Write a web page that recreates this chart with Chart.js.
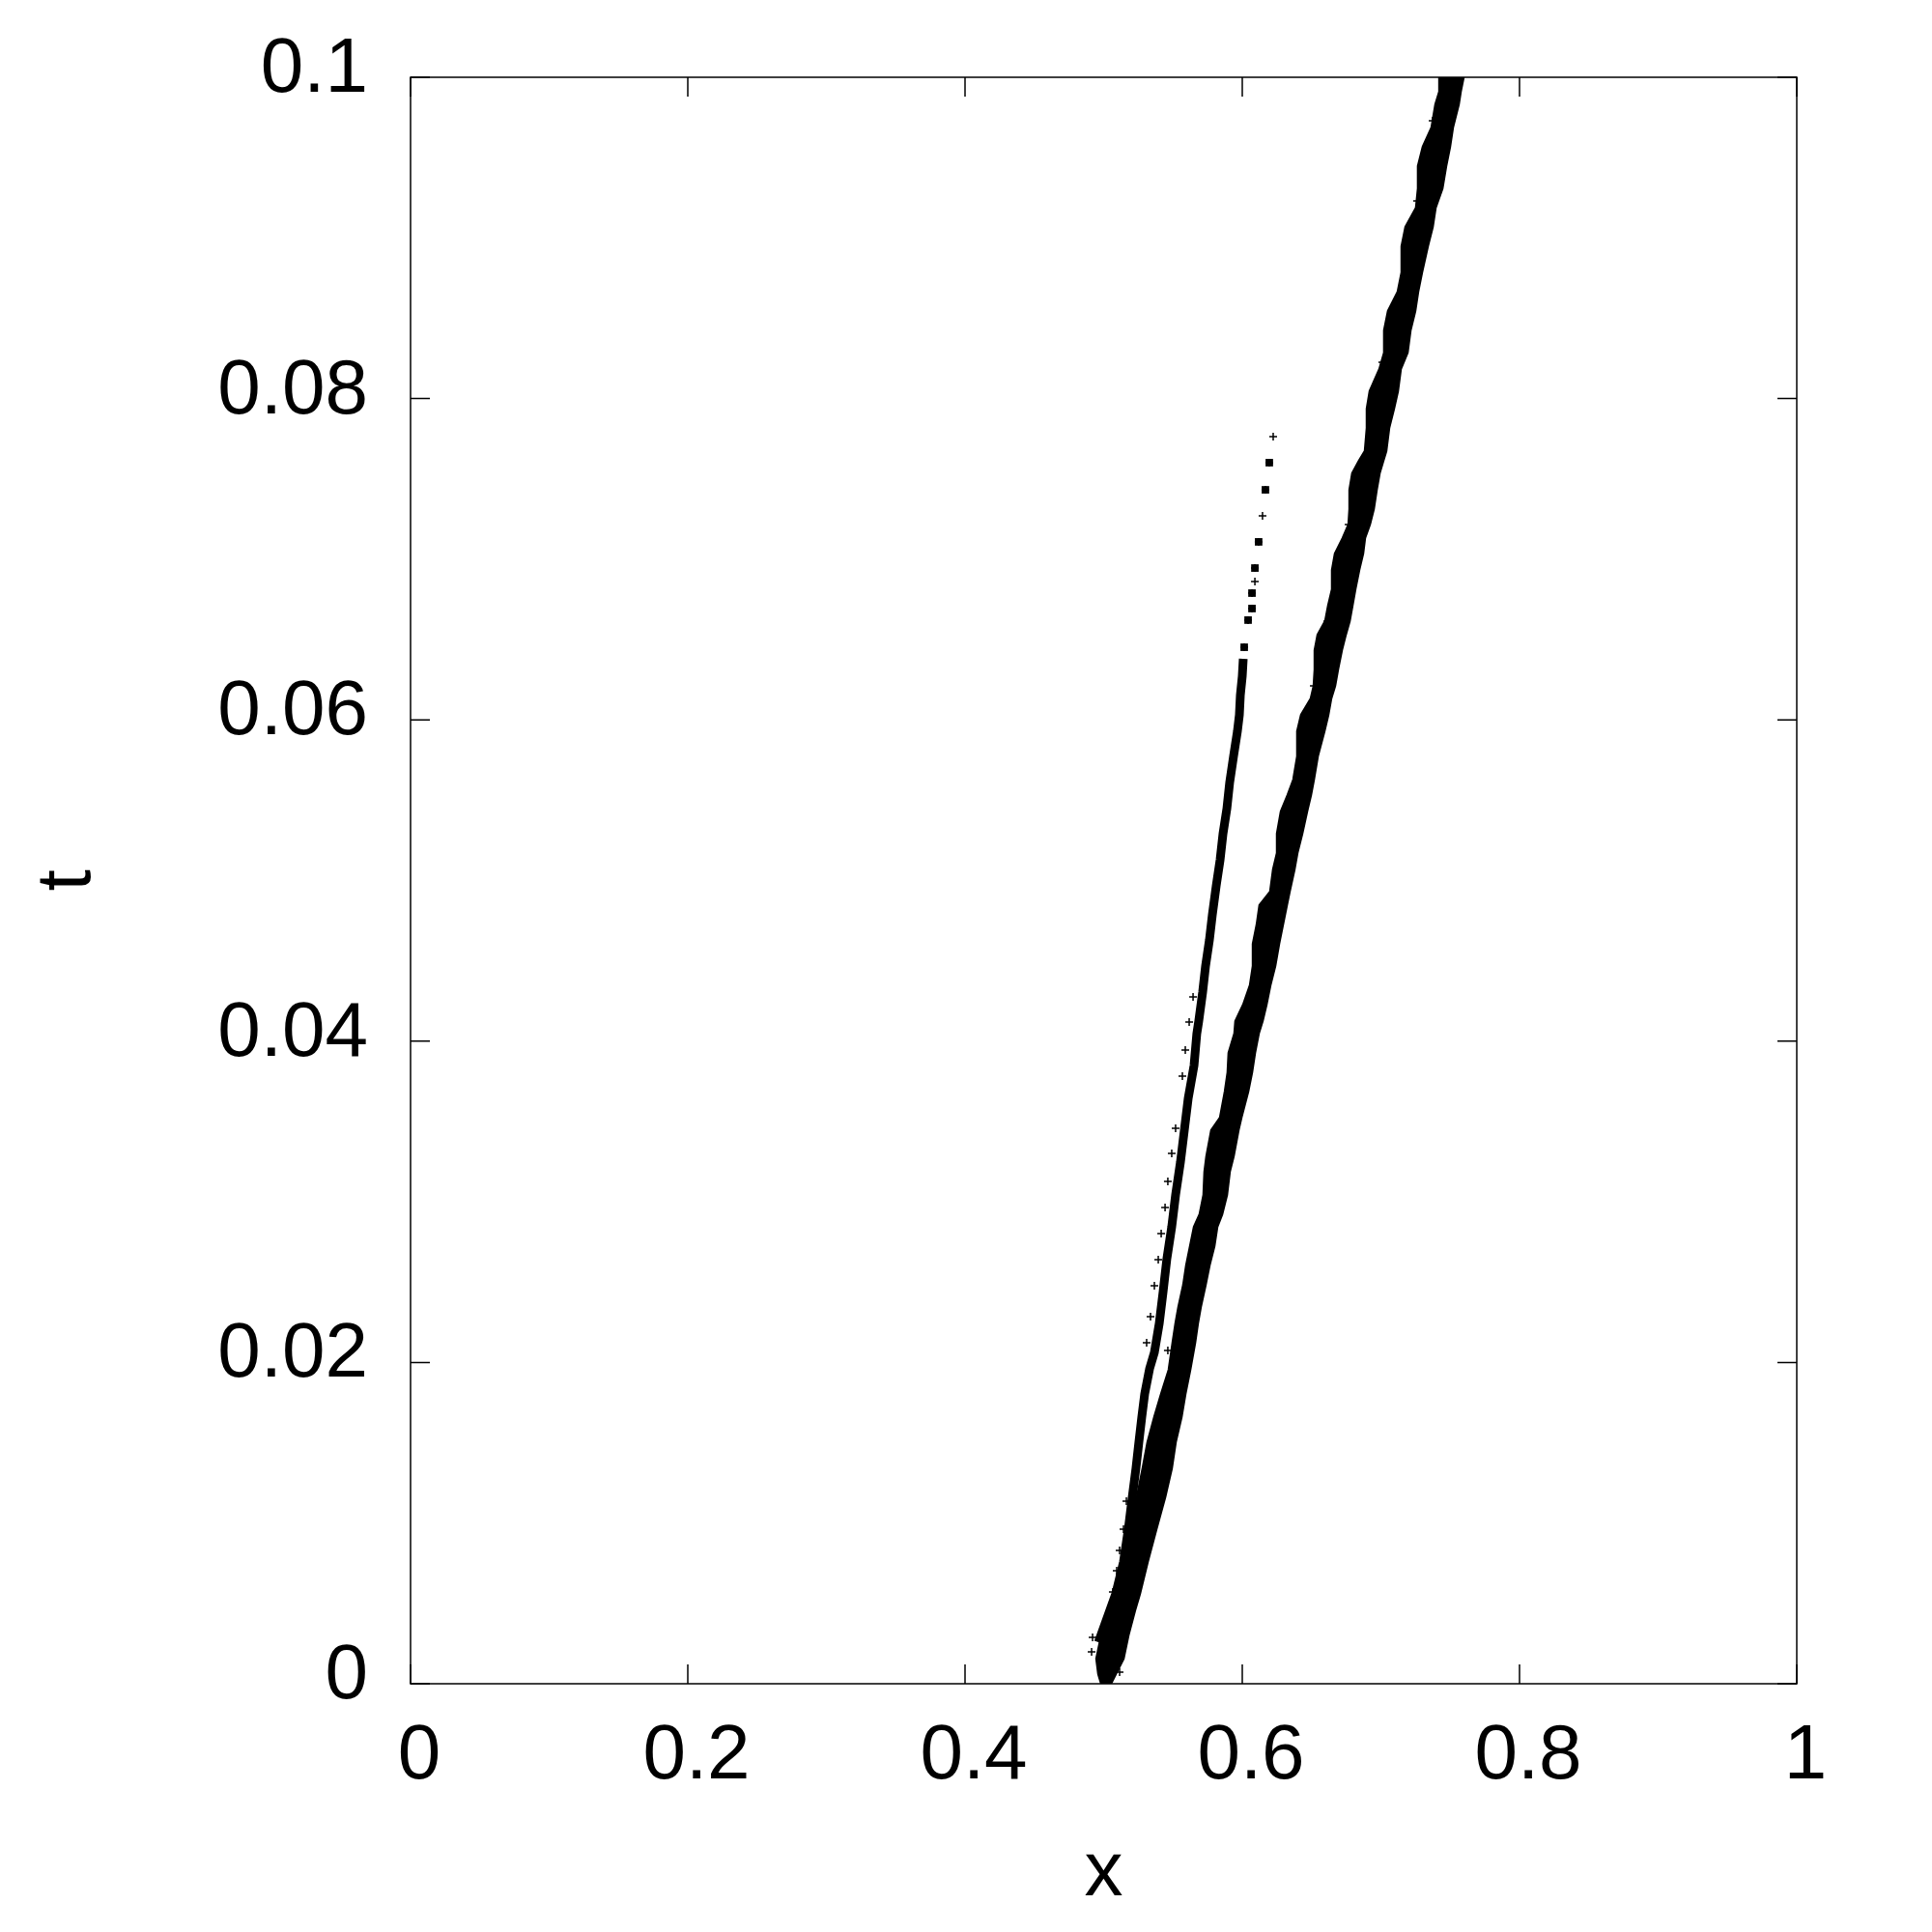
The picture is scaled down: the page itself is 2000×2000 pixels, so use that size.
<!DOCTYPE html>
<html>
<head>
<meta charset="utf-8">
<script src="https://cdn.jsdelivr.net/npm/chart.js@4.4.0/dist/chart.umd.min.js"></script>
<style>
  html, body { margin: 0; padding: 0; background: #fff; }
  #wrap { width: 2000px; height: 2000px; position: relative; }
</style>
</head>
<body>
<div id="wrap"><canvas id="chart"></canvas></div>
<script>
// axis ticks
const xTicks = [0, 0.2, 0.4, 0.6, 0.8, 1];
const xTickLabels = ['0', '0.2', '0.4', '0.6', '0.8', '1'];
const yTicks = [0, 0.02, 0.04, 0.06, 0.08, 0.1];
const yTickLabels = ['0', '0.02', '0.04', '0.06', '0.08', '0.1'];

// main thick band: edges at each t
const bandT = [0, 0.0006, 0.00156, 0.00301, 0.00457, 0.00559, 0.00758, 0.00962, 0.01161, 0.01341,
  0.01503, 0.0166, 0.01804, 0.01954, 0.02123, 0.02243, 0.02345, 0.02483, 0.02604, 0.02724,
  0.02844, 0.02922, 0.03043, 0.03187, 0.03283, 0.03446, 0.03524, 0.03686, 0.03806, 0.03927,
  0.04047, 0.04125, 0.04227, 0.04348, 0.04468, 0.04606, 0.04726, 0.04847, 0.04931, 0.05069,
  0.05171, 0.05292, 0.0543, 0.05532, 0.05628, 0.05773, 0.05929, 0.06031, 0.06133, 0.06212,
  0.06314, 0.06434, 0.0653, 0.06615, 0.06711, 0.06813, 0.06933, 0.07035, 0.07132, 0.07216,
  0.07312, 0.07432, 0.07535, 0.07613, 0.07673, 0.07817, 0.07937, 0.08046, 0.08184, 0.08286,
  0.08425, 0.08545, 0.08665, 0.08785, 0.08948, 0.09068, 0.09188, 0.09308, 0.09447, 0.09567,
  0.09687, 0.09832, 0.0991, 0.1];
const bandLeft = [0.4983, 0.4962, 0.4948, 0.4983, 0.5038, 0.5073, 0.5136, 0.5190, 0.5240, 0.5282,
  0.5317, 0.5366, 0.5415, 0.547, 0.5498, 0.5519, 0.554, 0.5575, 0.5596, 0.5624,
  0.5652, 0.5693, 0.5721, 0.5728, 0.5742, 0.5777, 0.584, 0.5875, 0.5895, 0.5902,
  0.5944, 0.5951, 0.6007, 0.6056, 0.6077, 0.6077, 0.6105, 0.6125, 0.6202, 0.6223,
  0.6251, 0.6251, 0.6279, 0.6328, 0.6369, 0.6397, 0.6397, 0.6425, 0.6495, 0.6516,
  0.6523, 0.6523, 0.6544, 0.6599, 0.662, 0.6648, 0.6648, 0.6669, 0.6725, 0.6767,
  0.6774, 0.6774, 0.6794, 0.6843, 0.6885, 0.6899, 0.6899, 0.692, 0.699, 0.7024,
  0.7024, 0.7052, 0.7122, 0.715, 0.715, 0.7178, 0.7254, 0.7268, 0.7268, 0.7303,
  0.7366, 0.7394, 0.7422, 0.7422];
const bandRight = [0.5052, 0.5087, 0.5143, 0.5178, 0.5226, 0.5261, 0.5317, 0.538, 0.5443, 0.5491,
  0.5519, 0.5561, 0.5589, 0.5624, 0.5659, 0.5679, 0.57, 0.5735, 0.5763, 0.5798,
  0.5819, 0.5854, 0.5889, 0.5909, 0.5937, 0.5972, 0.5993, 0.6042, 0.607, 0.6091,
  0.6118, 0.6146, 0.6174, 0.6202, 0.6237, 0.6265, 0.6293, 0.6321, 0.6341, 0.6376,
  0.6397, 0.6432, 0.6467, 0.6495, 0.6516, 0.6544, 0.6592, 0.662, 0.6641, 0.6669,
  0.669, 0.6718, 0.6746, 0.6774, 0.6794, 0.6815, 0.6843, 0.6871, 0.6885, 0.692,
  0.6948, 0.6969, 0.699, 0.7017, 0.7038, 0.7059, 0.7094, 0.7122, 0.7143, 0.7192,
  0.7213, 0.7247, 0.7268, 0.7296, 0.7338, 0.7373, 0.7394, 0.7443, 0.747, 0.7498,
  0.7519, 0.7561, 0.7575, 0.7596];

// thin branch (dense part)
const branchT = [0.00259, 0.00559, 0.00758, 0.00962, 0.01161, 0.01341, 0.01503, 0.0166, 0.01804, 0.0196,
  0.02063, 0.02243, 0.02441, 0.02646, 0.02844, 0.03043, 0.03247, 0.03446, 0.03644, 0.03849,
  0.04047, 0.04125, 0.04305, 0.04468, 0.0463, 0.04787, 0.04967, 0.05129, 0.05292, 0.05448,
  0.0561, 0.05773, 0.05929, 0.06031, 0.06152, 0.06272, 0.0638];
const branchX = [0.4962, 0.5087, 0.5143, 0.5178, 0.5206, 0.5233, 0.5254, 0.5275, 0.5296, 0.5331,
  0.5366, 0.5401, 0.5429, 0.5456, 0.5491, 0.5519, 0.5554, 0.5582, 0.561, 0.5652,
  0.5672, 0.5686, 0.5714, 0.5735, 0.5763, 0.5784, 0.5812, 0.584, 0.5861, 0.5889,
  0.5909, 0.5937, 0.5965, 0.5979, 0.5986, 0.6, 0.6007];

// clumps of overlapping points near the branch tip
const clumpT = [0.06452, 0.06621, 0.06693, 0.06789, 0.06945, 0.07108, 0.07432, 0.07601];
const clumpX = [0.6014, 0.6042, 0.607, 0.607, 0.6091, 0.6118, 0.6167, 0.6195];

// single "+" points (branch tip and strays)
const crossT = [0.06452, 0.06621, 0.06693, 0.06789, 0.06861, 0.06945, 0.07108, 0.0727, 0.07432, 0.07601, 0.07763,
  0.03945, 0.03782, 0.03458, 0.03301, 0.03127, 0.02965, 0.02802, 0.0264, 0.02477, 0.02285, 0.02123, 0.02075,
  0.04275, 0.04119, 0.01137, 0.00962, 0.0083, 0.00704, 0.00571, 0.00289, 0.00198, 0.00072,
  0.09729, 0.0923, 0.08226, 0.07216, 0.06615, 0.06212];
const crossX = [0.6014, 0.6042, 0.607, 0.607, 0.6091, 0.6091, 0.6118, 0.6146, 0.6167, 0.6195, 0.6223,
  0.5589, 0.5568, 0.5519, 0.5491, 0.5463, 0.5443, 0.5415, 0.5394, 0.5366, 0.5338, 0.531, 0.5463,
  0.5645, 0.5617, 0.5164, 0.5143, 0.5115, 0.5094, 0.5066, 0.492, 0.4913, 0.5115,
  0.7373, 0.7261, 0.701, 0.6767, 0.6613, 0.6516];

const FONT = { family: "'Liberation Sans', Arial, sans-serif", size: 80 };

// band outline: up the left edge, back down the right edge
const bandShape = bandT.map((t, i) => ({ x: bandLeft[i], y: t }))
  .concat(bandT.map((t, i) => ({ x: bandRight[i], y: t })).reverse());

const framePlugin = {
  id: 'frame',
  afterDatasetsDraw(chart) {
    const { ctx, chartArea: a, scales } = chart;
    ctx.save();
    ctx.strokeStyle = '#000';
    ctx.lineWidth = 1.5;
    ctx.strokeRect(a.left, a.top, a.right - a.left, a.bottom - a.top);
    ctx.beginPath();
    xTicks.forEach(v => {
      const px = scales.x.getPixelForValue(v);
      ctx.moveTo(px, a.bottom); ctx.lineTo(px, a.bottom - 20);
      ctx.moveTo(px, a.top); ctx.lineTo(px, a.top + 20);
    });
    yTicks.forEach(v => {
      const py = scales.y.getPixelForValue(v);
      ctx.moveTo(a.left, py); ctx.lineTo(a.left + 20, py);
      ctx.moveTo(a.right, py); ctx.lineTo(a.right - 20, py);
    });
    ctx.stroke();
    ctx.restore();
  }
};

new Chart(document.getElementById('chart'), {
  type: 'line',
  data: {
    datasets: [
      {
        data: bandShape,
        borderColor: '#000',
        backgroundColor: '#000',
        borderWidth: 2.5,
        pointRadius: 0,
        fill: 'shape',
        tension: 0
      },
      {
        data: branchT.map((t, i) => ({ x: branchX[i], y: t })),
        borderColor: '#000',
        borderWidth: 9,
        pointRadius: 0,
        fill: false,
        tension: 0
      },
      {
        data: clumpT.map((t, i) => ({ x: clumpX[i], y: t })),
        showLine: false,
        pointStyle: 'rect',
        pointRadius: 5.5,
        pointBorderWidth: 0,
        pointBackgroundColor: '#000',
        fill: false
      },
      {
        data: crossT.map((t, i) => ({ x: crossX[i], y: t })),
        showLine: false,
        pointStyle: 'cross',
        pointRadius: 4,
        pointBorderWidth: 1.5,
        pointBorderColor: '#000',
        pointBackgroundColor: '#000',
        fill: false
      }
    ]
  },
  options: {
    responsive: true,
    maintainAspectRatio: false,
    animation: false,
    devicePixelRatio: 1,
    layout: { padding: { top: 80, right: 140, bottom: 0, left: 0 } },
    plugins: { legend: { display: false }, tooltip: { enabled: false } },
    scales: {
      x: {
        type: 'linear', min: 0, max: 1,
        afterBuildTicks: s => { s.ticks = xTicks.map(v => ({ value: v })); },
        afterFit: s => { s.height = 257; s.paddingLeft = 0; s.paddingRight = 0; },
        grid: { display: false, drawTicks: false, tickLength: 0 },
        border: { display: false },
        ticks: {
          color: '#000', font: FONT, padding: 28, labelOffset: 9,
          maxRotation: 0, autoSkip: false,
          callback: (v, i) => xTickLabels[i]
        },
        title: { display: true, text: 'x', color: '#000', font: FONT, padding: { top: 0, bottom: 12 } }
      },
      y: {
        type: 'linear', min: 0, max: 0.1,
        afterBuildTicks: s => { s.ticks = yTicks.map(v => ({ value: v })); },
        afterFit: s => { s.width = 425; s.paddingTop = 0; s.paddingBottom = 0; },
        grid: { display: false, drawTicks: false, tickLength: 0 },
        border: { display: false },
        ticks: {
          color: '#000', font: FONT, padding: 44, labelOffset: -7,
          autoSkip: false,
          callback: (v, i) => yTickLabels[i]
        },
        title: { display: true, text: 't', color: '#000', font: FONT, padding: { top: 23, bottom: 0 } }
      }
    }
  },
  plugins: [framePlugin]
});
</script>
</body>
</html>
